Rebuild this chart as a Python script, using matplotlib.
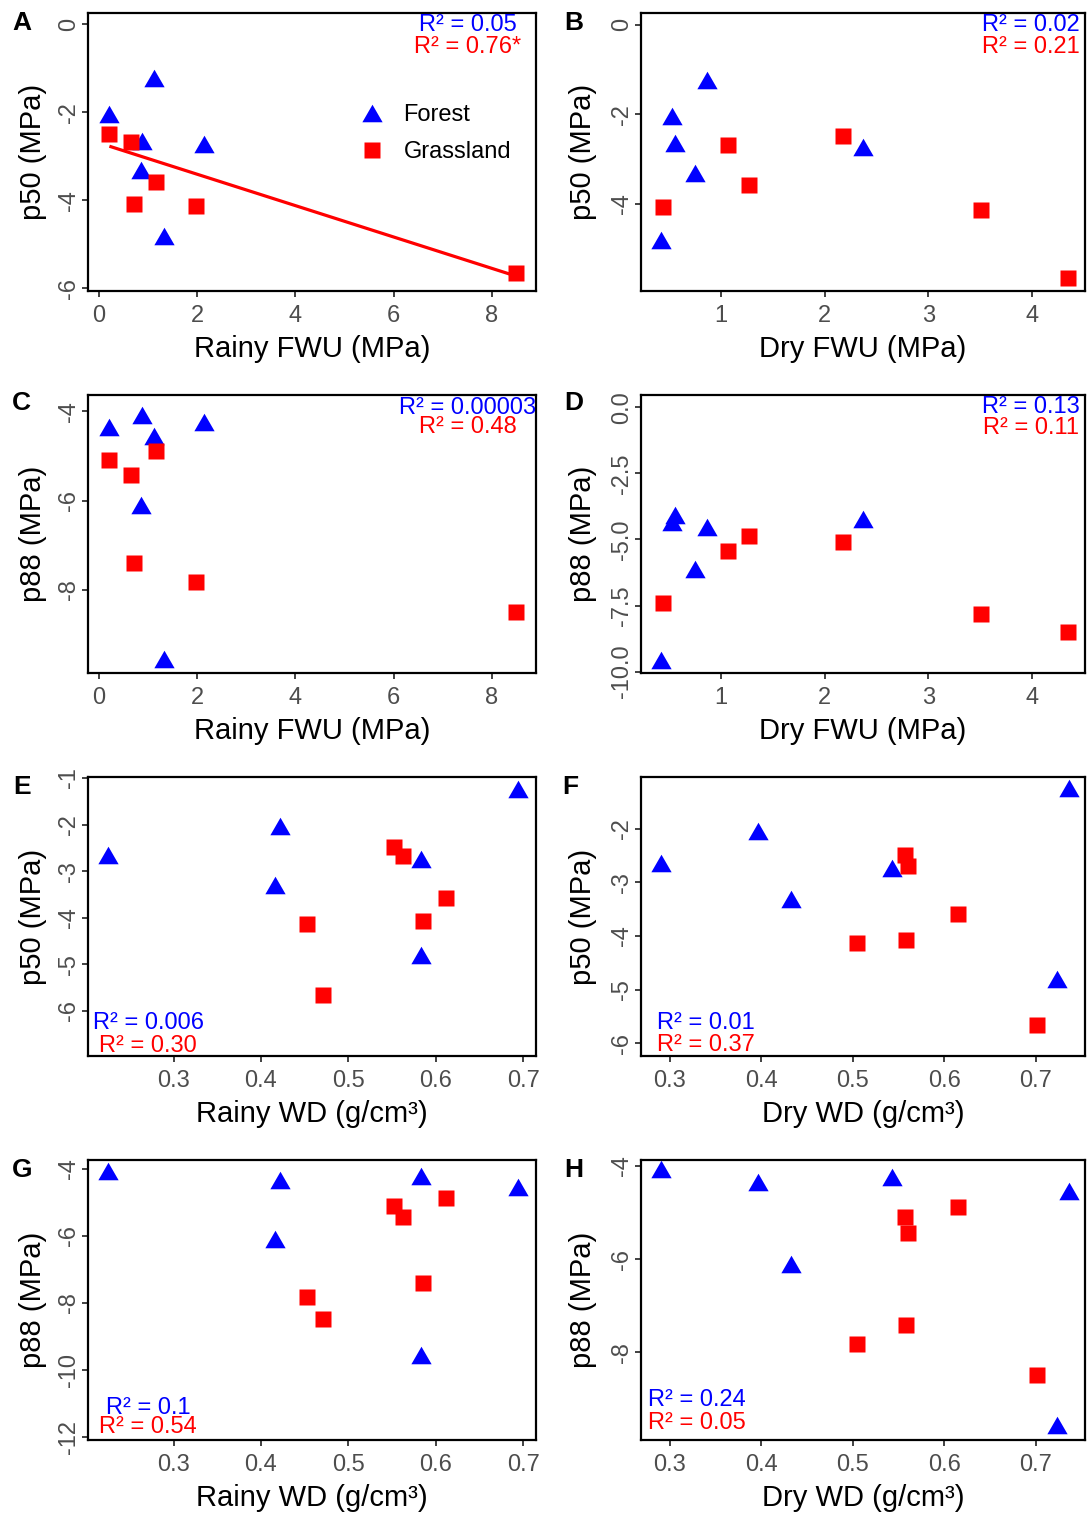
import numpy as np
import matplotlib
matplotlib.use("Agg")
import matplotlib.pyplot as plt
from matplotlib.path import Path

plt.rcParams['font.family'] = ['Liberation Sans', 'DejaVu Sans']
plt.rcParams['axes.unicode_minus'] = False

# ---------------- data (one value per species) ----------------
forest_p50 = [-2.03, -2.645, -1.23, -4.81, -2.73, -3.305]
forest_p88 = [-4.34, -4.07, -4.54, -9.56, -4.23, -6.11]
forest_rainy_fwu = [0.20, 0.87, 1.12, 1.33, 2.14, 0.85]
forest_dry_fwu = [0.53, 0.557, 0.867, 0.427, 2.373, 0.747]
forest_rainy_wd = [0.422, 0.225, 0.694, 0.583, 0.583, 0.416]
forest_dry_wd = [0.397, 0.291, 0.736, 0.723, 0.543, 0.4325]

grass_p50 = [-2.49, -2.685, -3.58, -4.075, -4.135, -5.66]
grass_p88 = [-5.10, -5.43, -4.88, -7.41, -7.82, -8.50]
grass_rainy_fwu = [0.21, 0.65, 1.16, 0.72, 1.98, 8.49]
grass_dry_fwu = [2.18, 1.073, 1.273, 0.44, 3.507, 4.347]
grass_rainy_wd = [0.552, 0.562, 0.612, 0.585, 0.453, 0.471]
grass_dry_wd = [0.557, 0.560, 0.615, 0.558, 0.505, 0.701]

# fitted grassland line in panel A (endpoints)
fit_rainy_fwu = [0.21, 8.49]
fit_p50 = [-2.77, -5.72]

r2_forest = ["0.05", "0.02", "0.00003", "0.13", "0.006", "0.01", "0.1", "0.24"]
r2_grass = ["0.76*", "0.21", "0.48", "0.11", "0.30", "0.37", "0.54", "0.05"]
panel_letters = ["A", "B", "C", "D", "E", "F", "G", "H"]

BLUE = "#0000FF"
RED = "#FF0000"

W, H = 1087, 1515
fig = plt.figure(figsize=(W / 100, H / 100), dpi=100)

tri = Path([(-1, -0.866), (1, -0.866), (0, 0.866), (-1, -0.866)],
           [Path.MOVETO, Path.LINETO, Path.LINETO, Path.CLOSEPOLY])

cols = [(88, 536), (641, 1085)]
rows = [(13, 291), (395, 673), (777, 1056), (1160, 1440)]

specs = [
    dict(xf=forest_rainy_fwu, xg=grass_rainy_fwu, yf=forest_p50, yg=grass_p50,
         xl="Rainy FWU (MPa)", yl="p50 (MPa)", xlim=(-0.226, 8.90), ylim=(-6.06, 0.257),
         xt=[0, 2, 4, 6, 8], yt=[0, -2, -4, -6], yfmt="{:g}", r2=(0.847, 0.957, 0.879)),
    dict(xf=forest_dry_fwu, xg=grass_dry_fwu, yf=forest_p50, yg=grass_p50,
         xl="Dry FWU (MPa)", yl="p50 (MPa)", xlim=(0.23, 4.51), ylim=(-5.95, 0.26),
         xt=[1, 2, 3, 4], yt=[0, -2, -4], yfmt="{:g}", r2=(0.879, 0.957, 0.879)),
    dict(xf=forest_rainy_fwu, xg=grass_rainy_fwu, yf=forest_p88, yg=grass_p88,
         xl="Rainy FWU (MPa)", yl="p88 (MPa)", xlim=(-0.226, 8.90), ylim=(-9.87, -3.63),
         xt=[0, 2, 4, 6, 8], yt=[-4, -6, -8], yfmt="{:g}", r2=(0.847, 0.955, 0.884)),
    dict(xf=forest_dry_fwu, xg=grass_dry_fwu, yf=forest_p88, yg=grass_p88,
         xl="Dry FWU (MPa)", yl="p88 (MPa)", xlim=(0.23, 4.51), ylim=(-10.05, 0.46),
         xt=[1, 2, 3, 4], yt=[0, -2.5, -5, -7.5, -10], yfmt="{:.1f}", r2=(0.879, 0.957, 0.883)),
    dict(xf=forest_rainy_wd, xg=grass_rainy_wd, yf=forest_p50, yg=grass_p50,
         xl="Rainy WD (g/cm³)", yl="p50 (MPa)", xlim=(0.202, 0.7148), ylim=(-6.97, -0.98),
         xt=[0.3, 0.4, 0.5, 0.6, 0.7], yt=[-1, -2, -3, -4, -5, -6], yfmt="{:g}", r2=(0.134, 0.120, 0.036)),
    dict(xf=forest_dry_wd, xg=grass_dry_wd, yf=forest_p50, yg=grass_p50,
         xl="Dry WD (g/cm³)", yl="p50 (MPa)", xlim=(0.2687, 0.7537), ylim=(-6.24, -1.03),
         xt=[0.3, 0.4, 0.5, 0.6, 0.7], yt=[-2, -3, -4, -5, -6], yfmt="{:g}", r2=(0.146, 0.117, 0.039)),
    dict(xf=forest_rainy_wd, xg=grass_rainy_wd, yf=forest_p88, yg=grass_p88,
         xl="Rainy WD (g/cm³)", yl="p88 (MPa)", xlim=(0.202, 0.7148), ylim=(-12.1, -3.74),
         xt=[0.3, 0.4, 0.5, 0.6, 0.7], yt=[-4, -6, -8, -10, -12], yfmt="{:g}", r2=(0.134, 0.115, 0.045)),
    dict(xf=forest_dry_wd, xg=grass_dry_wd, yf=forest_p88, yg=grass_p88,
         xl="Dry WD (g/cm³)", yl="p88 (MPa)", xlim=(0.2687, 0.7537), ylim=(-9.89, -3.87),
         xt=[0.3, 0.4, 0.5, 0.6, 0.7], yt=[-4, -6, -8], yfmt="{:g}", r2=(0.126, 0.143, 0.062)),
]

letter_pos = [(21.7, 22.5), (573.3, 22.5), (21.7, 403.5), (573.3, 403.5),
              (21.7, 786.5), (570.5, 786.5), (21.7, 1170), (573.3, 1170)]

for i, sp in enumerate(specs):
    r, c = divmod(i, 2)
    l, rr = cols[c]
    t, b = rows[r]
    ax = fig.add_axes([l / W, 1 - b / H, (rr - l) / W, (b - t) / H])
    hf, = ax.plot(sp["xf"], sp["yf"], linestyle="none", marker=tri, ms=14.6,
                  color=BLUE, mec="none", label="Forest", zorder=3)
    hg, = ax.plot(sp["xg"], sp["yg"], linestyle="none", marker="s", ms=11.0,
                  color=RED, mec="none", label="Grassland", zorder=4)
    if i == 0:
        ax.plot(fit_rainy_fwu, fit_p50, color=RED, lw=2.3, solid_capstyle="butt", zorder=2)
        ax.legend(handles=[hf, hg], loc="center left", bbox_to_anchor=(0.607, 0.566),
                  frameon=False, fontsize=17, handlelength=1.0, handletextpad=0.85,
                  labelspacing=0.65, borderpad=0, borderaxespad=0)
    ax.set_xlim(*sp["xlim"])
    ax.set_ylim(*sp["ylim"])
    ax.set_xticks(sp["xt"], [f"{v:g}" for v in sp["xt"]])
    ax.set_yticks(sp["yt"], [sp["yfmt"].format(v) for v in sp["yt"]],
                  rotation=90, va="center")
    ax.tick_params(direction="out", length=4, width=1.3, color="#333333",
                   labelcolor="#4D4D4D", labelsize=17)
    ax.tick_params(axis="x", pad=6.0)
    ax.tick_params(axis="y", pad=2)
    for s in ax.spines.values():
        s.set_linewidth(1.6)
        s.set_color("black")
    ax.set_xlabel(sp["xl"], fontsize=21)
    ax.set_ylabel(sp["yl"], fontsize=21)
    ax.xaxis.label.set_va("center")
    ax.yaxis.label.set_va("center")
    hpx = b - t
    wpx = rr - l
    ax.xaxis.set_label_coords(0.5, -58 / hpx)
    ax.yaxis.set_label_coords((-55 if c == 0 else -58) / wpx, 0.5)
    xr, yb, yr = sp["r2"]
    ax.text(xr, yb, "R² = " + r2_forest[i], transform=ax.transAxes, color=BLUE,
            fontsize=17, ha="center", va="center")
    ax.text(xr, yr, "R² = " + r2_grass[i], transform=ax.transAxes, color=RED,
            fontsize=17, ha="center", va="center")
    lx, ly = letter_pos[i]
    fig.text(lx / W, 1 - ly / H, panel_letters[i], fontsize=19, fontweight="bold",
             ha="center", va="center")

fig.savefig("out.png", dpi=100)
